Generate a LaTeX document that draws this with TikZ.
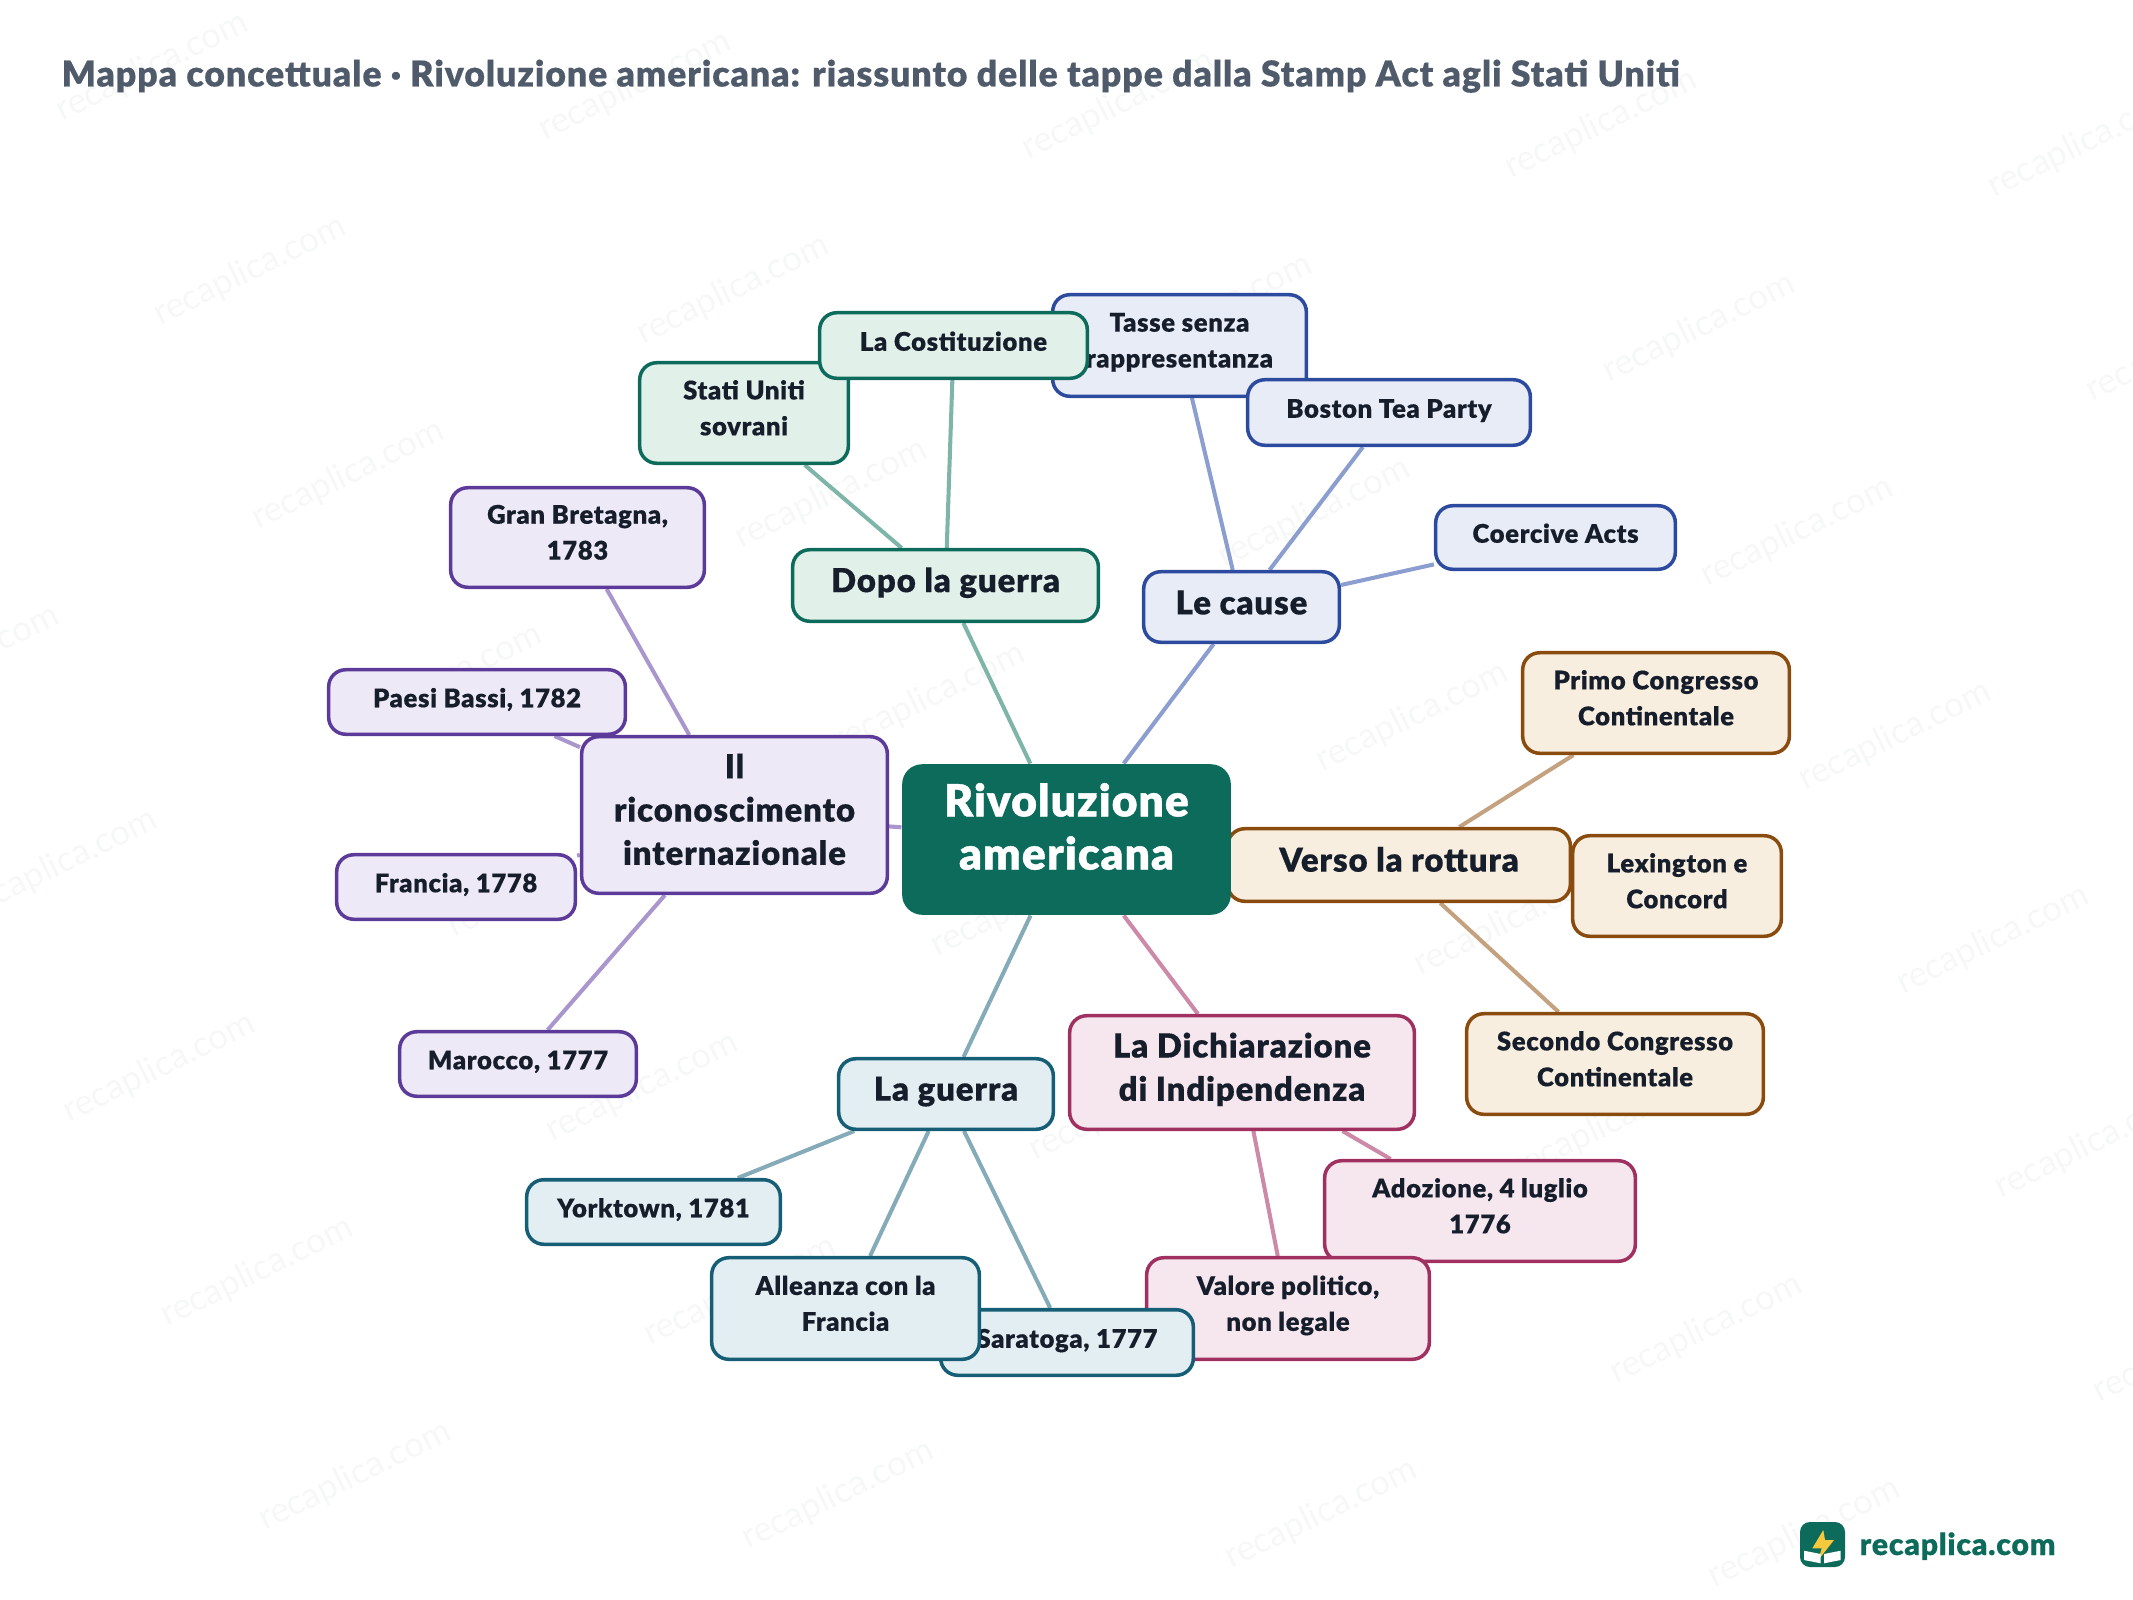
\documentclass[tikz,border=0pt]{standalone}
\usepackage{fontspec}
\setmainfont{Lato}[BoldFont={Lato Black}, BoldFeatures={LetterSpace=2.5, FakeBold=0.3}]
\newfontfamily\radicefont{Lato Black}[LetterSpace=2.5, FakeBold=1]
\usetikzlibrary{backgrounds, positioning}
\definecolor{inchiostro}{HTML}{161D2B}
\definecolor{grigiotitolo}{HTML}{4F5B6B}
\definecolor{filigrana}{HTML}{F6F8F8}
\definecolor{radicefill}{HTML}{0D6B5C}
\definecolor{verdefill}{HTML}{E2F0EA}
\definecolor{verdelink}{HTML}{7FB5A8}
\definecolor{blufill}{HTML}{E8ECF7}
\definecolor{bludraw}{HTML}{2C4A9E}
\definecolor{blulink}{HTML}{8C9ECF}
\definecolor{brunofill}{HTML}{F7EEDF}
\definecolor{brunodraw}{HTML}{8A4B0F}
\definecolor{brunolink}{HTML}{C4A27F}
\definecolor{rosafill}{HTML}{F6E7EF}
\definecolor{rosadraw}{HTML}{A0305F}
\definecolor{rosalink}{HTML}{CD8AA8}
\definecolor{tealfill}{HTML}{E3EEF3}
\definecolor{tealdraw}{HTML}{155E75}
\definecolor{teallink}{HTML}{86ABB8}
\definecolor{violafill}{HTML}{EEE9F6}
\definecolor{violadraw}{HTML}{5B3A9A}
\definecolor{violalink}{HTML}{A996CC}
\definecolor{lampo}{HTML}{F5C93B}
\tikzset{
    dim/.style 2 args={minimum width=#1cm+0.015cm, minimum height=#2cm+0.015cm},
    piano/.style={execute at end node={\rule[-#1pt]{0pt}{0pt}}},
    scheda/.style={rounded corners=0.17cm, line width=1pt, align=center, inner sep=0pt, text=inchiostro},
    foglia/.style={scheda, font=\fontsize{7.3}{10.2}\selectfont\bfseries,
        execute at begin node={\rule{0pt}{7pt}}},
    ramo/.style={scheda, font=\fontsize{9.4}{12.3}\selectfont\bfseries,
        execute at begin node={\rule{0pt}{9pt}}},
    radice/.style={rounded corners=0.2cm, fill=radicefill, align=center, inner sep=0pt, text=white,
        font=\fontsize{12.6}{15.1}\selectfont\radicefont,
        execute at begin node={\rule{0pt}{11pt}}, piano=7.5},
    verde/.style={fill=verdefill, draw=radicefill},
    blu/.style={fill=blufill, draw=bludraw},
    bruno/.style={fill=brunofill, draw=brunodraw},
    rosa/.style={fill=rosafill, draw=rosadraw},
    teal/.style={fill=tealfill, draw=tealdraw},
    viola/.style={fill=violafill, draw=violadraw},
    legame/.style={line width=1.15pt},
    marchio/.style={text=filigrana, rotate=26, font=\fontsize{10}{10}\selectfont}
}
\begin{document}
\begin{tikzpicture}[x=0.01cm, y=-0.01cm]
    \useasboundingbox (0,0) rectangle (2133,1600);
    \node (titolo) [anchor=base west, inner sep=0pt, text=grigiotitolo, font=\fontsize{10.15}{12}\selectfont\bfseries] at (61,86.5)
        {Mappa concettuale · Rivoluzione americana: riassunto delle tappe dalla Stamp Act agli Stati Uniti};

    % le cause
    \node (cause) [ramo, piano=4.8, blu, dim={1.94}{0.69}] at (1241.5,607) {Le cause};
    \node (tasse) [foglia, piano=3, blu, dim={2.52}{1.00}] at (1179.5,345.5) {Tasse senza\\rappresentanza};
    \node (boston) [foglia, piano=4, blu, dim={2.81}{0.64}] at (1389,412.5) {Boston Tea Party};
    \node (coercive) [foglia, piano=4, blu, dim={2.38}{0.62}] at (1555.5,537.5) {Coercive Acts};

    % verso la rottura
    \node (verso) [ramo, piano=5.2, bruno, dim={3.41}{0.71}] at (1399,865) {Verso la rottura};
    \node (primo) [foglia, piano=3, bruno, dim={2.65}{0.99}] at (1656,703) {Primo Congresso\\Continentale};
    \node (lexington) [foglia, piano=3, bruno, dim={2.07}{0.99}] at (1677,886) {Lexington e\\Concord};
    \node (secondo) [foglia, piano=3, bruno, dim={2.95}{0.99}] at (1615,1064) {Secondo Congresso\\Continentale};

    \node (rivoluzione) [radice, dim={3.27}{1.49}] at (1066.5,839.5) {Rivoluzione\\americana};

    % la dichiarazione
    \node (dichiarazione) [ramo, piano=3.3, rosa, dim={3.43}{1.12}] at (1242,1072.5) {La Dichiarazione\\di Indipendenza};
    \node (adozione) [foglia, piano=3, rosa, dim={3.09}{0.99}] at (1480,1211) {Adozione, 4 luglio\\1776};
    \node (valore) [foglia, piano=3, rosa, dim={2.81}{1.00}] at (1288,1308.5) {Valore politico,\\non legale};

    % la guerra
    \node (guerra) [ramo, piano=5.2, teal, dim={2.13}{0.69}] at (946,1094) {La guerra};
    \node (yorktown) [foglia, piano=4, teal, dim={2.52}{0.63}] at (653.5,1212) {Yorktown, 1781};
    \node (saratoga) [foglia, piano=4, teal, dim={2.51}{0.64}] at (1067,1342.5) {Saratoga, 1777};
    \node (alleanza) [foglia, piano=3, teal, dim={2.66}{1.00}] at (845.5,1308.5) {Alleanza con la\\Francia};

    % il riconoscimento
    \node (gran) [foglia, piano=3, viola, dim={2.52}{0.98}] at (577.5,537.5) {Gran Bretagna,\\1783};
    \node (paesi) [foglia, piano=4, viola, dim={2.95}{0.63}] at (477,702) {Paesi Bassi, 1782};
    \node (francia) [foglia, piano=4, viola, dim={2.37}{0.63}] at (456,887) {Francia, 1778};
    \node (marocco) [foglia, piano=4, viola, dim={2.35}{0.63}] at (518,1064) {Marocco, 1777};
    \node (riconoscimento) [ramo, piano=3.3, viola, dim={3.04}{1.55}] at (734.5,815) {Il\\riconoscimento\\internazionale};

    % dopo la guerra
    \node (dopo) [ramo, piano=5.2, verde, dim={3.04}{0.70}] at (945.5,585.5) {Dopo la guerra};
    \node (stati) [foglia, piano=3, verde, dim={2.07}{0.99}] at (744,413) {Stati Uniti\\sovrani};
    \node (costituzione) [foglia, piano=4, verde, dim={2.66}{0.64}] at (953.5,345.5) {La Costituzione};

    \begin{scope}[on background layer]
        \clip (0,0) rectangle (2133,1600);
        \foreach \i in {-1,...,5} {
            \foreach \j in {-1,...,7} {
                \node (filigrana-\i-\j) [marchio] at ({250+483*\i+98*\j},{271+19*\i+204*\j}) {recaplica.com};
            }
        }
        \foreach \capo/\coda in {dopo/rivoluzione, stati/dopo, costituzione/dopo}
            \draw[legame, verdelink] (\capo) -- (\coda);
        \foreach \capo/\coda in {cause/rivoluzione, tasse/cause, boston/cause, coercive/cause}
            \draw[legame, blulink] (\capo) -- (\coda);
        \foreach \capo/\coda in {verso/rivoluzione, primo/verso, lexington/verso, secondo/verso}
            \draw[legame, brunolink] (\capo) -- (\coda);
        \foreach \capo/\coda in {dichiarazione/rivoluzione, adozione/dichiarazione, valore/dichiarazione}
            \draw[legame, rosalink] (\capo) -- (\coda);
        \foreach \capo/\coda in {guerra/rivoluzione, yorktown/guerra, saratoga/guerra, alleanza/guerra}
            \draw[legame, teallink] (\capo) -- (\coda);
        \foreach \capo/\coda in {riconoscimento/rivoluzione, gran/riconoscimento, paesi/riconoscimento, francia/riconoscimento, marocco/riconoscimento}
            \draw[legame, violalink] (\capo) -- (\coda);
    \end{scope}

    % logo
    \fill[radicefill, rounded corners=0.1cm] (1800,1522) rectangle (1845,1567);
    \fill[lampo] (1823.3,1530) -- (1812.3,1548.3) -- (1821.7,1548.3) -- (1818.3,1560) -- (1834,1540) -- (1825,1540) -- cycle;
    \fill[white] (1804,1550.7) -- (1820.7,1554) -- (1820.7,1563.3) -- (1804,1560) -- cycle;
    \fill[white] (1824,1554) -- (1840.7,1550.7) -- (1840.7,1560) -- (1824,1563.3) -- cycle;
    \node (sito) [anchor=base west, inner sep=0pt, text=radicefill, font=\fontsize{8.6}{10}\selectfont\bfseries] at (1859,1555) {recaplica.com};
\end{tikzpicture}
\end{document}
